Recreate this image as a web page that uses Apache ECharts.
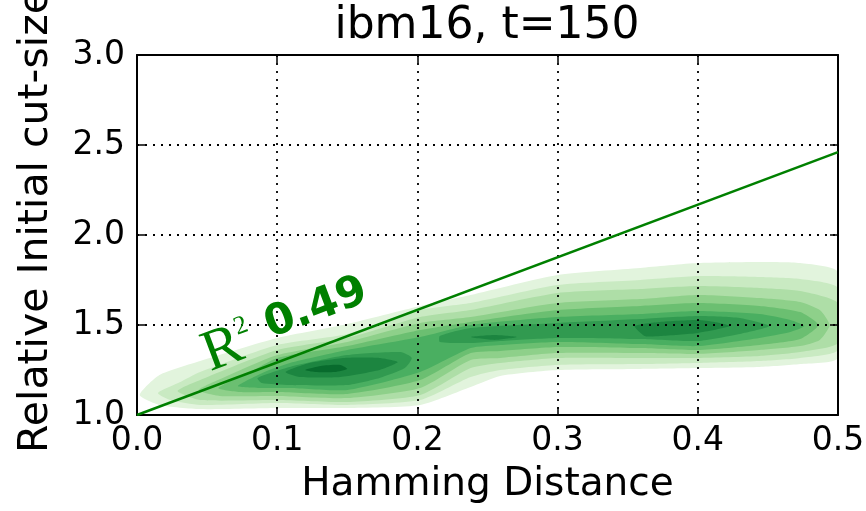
<!DOCTYPE html>
<html>
<head>
<meta charset="utf-8">
<script src="https://cdn.jsdelivr.net/npm/echarts@6/dist/echarts.min.js"></script>
<style>
html, body { margin: 0; padding: 0; background: #fff; }
#kde-chart { width: 866px; height: 511px; }
</style>
</head>
<body>
<div id="kde-chart"></div>
<script>
// axis ticks
const xTickLabels = ['0.0', '0.1', '0.2', '0.3', '0.4', '0.5'];
const yTickLabels = ['1.0', '1.5', '2.0', '2.5', '3.0'];

// regression line
const fitLine = [[0, 1.0], [0.5, 2.46]];
const rSquared = '0.49';
const labelAnchor = [0.052, 1.25];

// KDE contour bands, outermost first (hand traced)
const level1 = [
  [0.002, 1.111], [0.016, 1.222], [0.045, 1.300], [0.100, 1.428], [0.150, 1.506], [0.202, 1.606],
  [0.238, 1.667], [0.300, 1.778], [0.359, 1.817], [0.400, 1.844], [0.444, 1.850], [0.473, 1.844],
  [0.500, 1.794], [0.500, 1.317], [0.473, 1.283], [0.444, 1.267], [0.400, 1.261], [0.359, 1.256],
  [0.300, 1.250], [0.259, 1.217], [0.238, 1.156], [0.202, 1.056], [0.150, 1.039], [0.100, 1.039],
  [0.045, 1.033], [0.016, 1.056]
];
const level2 = [
  [0.015, 1.122], [0.030, 1.180], [0.045, 1.239], [0.100, 1.389], [0.150, 1.450], [0.202, 1.583],
  [0.238, 1.622], [0.300, 1.722], [0.359, 1.750], [0.400, 1.772], [0.444, 1.767], [0.473, 1.756],
  [0.500, 1.706], [0.500, 1.361], [0.473, 1.317], [0.444, 1.300], [0.400, 1.289], [0.359, 1.283],
  [0.300, 1.278], [0.259, 1.250], [0.238, 1.211], [0.202, 1.083], [0.150, 1.056], [0.100, 1.067],
  [0.045, 1.056], [0.024, 1.083]
];
const level3 = [
  [0.029, 1.133], [0.045, 1.194], [0.100, 1.361], [0.150, 1.428], [0.202, 1.544], [0.238, 1.583],
  [0.300, 1.678], [0.359, 1.700], [0.400, 1.717], [0.444, 1.706], [0.473, 1.689], [0.500, 1.622],
  [0.500, 1.400], [0.473, 1.350], [0.444, 1.328], [0.400, 1.317], [0.359, 1.317], [0.300, 1.317],
  [0.259, 1.289], [0.238, 1.261], [0.202, 1.111], [0.150, 1.072], [0.100, 1.083], [0.045, 1.083]
];
const level4 = [
  [0.044, 1.139], [0.066, 1.222], [0.100, 1.333], [0.150, 1.406], [0.202, 1.511], [0.238, 1.544],
  [0.300, 1.622], [0.359, 1.644], [0.400, 1.667], [0.444, 1.650], [0.473, 1.628], [0.487, 1.583],
  [0.494, 1.500], [0.487, 1.417], [0.473, 1.383], [0.444, 1.361], [0.400, 1.339], [0.359, 1.344],
  [0.300, 1.344], [0.259, 1.317], [0.238, 1.306], [0.202, 1.150], [0.150, 1.094], [0.100, 1.106],
  [0.059, 1.106]
];
const level5 = [
  [0.058, 1.150], [0.081, 1.239], [0.100, 1.317], [0.150, 1.383], [0.202, 1.472], [0.238, 1.517],
  [0.300, 1.583], [0.359, 1.606], [0.400, 1.622], [0.444, 1.606], [0.473, 1.572], [0.486, 1.500],
  [0.473, 1.422], [0.444, 1.389], [0.400, 1.361], [0.359, 1.372], [0.300, 1.378], [0.259, 1.356],
  [0.238, 1.344], [0.202, 1.194], [0.150, 1.117], [0.100, 1.128], [0.073, 1.128]
];
const level6 = [
  [0.072, 1.161], [0.091, 1.239], [0.109, 1.289], [0.150, 1.361], [0.202, 1.433], [0.238, 1.500],
  [0.300, 1.544], [0.359, 1.561], [0.400, 1.578], [0.444, 1.561], [0.466, 1.528], [0.476, 1.494],
  [0.466, 1.461], [0.444, 1.428], [0.400, 1.383], [0.359, 1.394], [0.300, 1.406], [0.259, 1.389],
  [0.238, 1.372], [0.202, 1.239], [0.150, 1.139], [0.109, 1.150], [0.088, 1.150]
];
const level7Left = [
  [0.086, 1.206], [0.109, 1.267], [0.150, 1.333], [0.188, 1.350], [0.196, 1.317], [0.191, 1.261],
  [0.173, 1.206], [0.150, 1.167], [0.109, 1.167], [0.089, 1.178]
];
const level7Right = [
  [0.216, 1.439], [0.238, 1.483], [0.300, 1.511], [0.359, 1.533], [0.400, 1.550], [0.430, 1.539],
  [0.451, 1.494], [0.430, 1.450], [0.400, 1.411], [0.359, 1.422], [0.300, 1.428], [0.259, 1.411],
  [0.238, 1.400], [0.216, 1.406]
];
const level8Left = [
  [0.106, 1.239], [0.123, 1.289], [0.148, 1.317], [0.173, 1.317], [0.186, 1.294], [0.173, 1.250],
  [0.145, 1.211], [0.116, 1.211]
];
const level8Mid = [[0.238, 1.433], [0.255, 1.444], [0.271, 1.433], [0.255, 1.417]];
const level8Right = [
  [0.355, 1.494], [0.373, 1.517], [0.400, 1.528], [0.412, 1.517], [0.423, 1.494], [0.400, 1.456],
  [0.373, 1.439], [0.362, 1.439]
];
const level9 = [
  [0.120, 1.250], [0.131, 1.272], [0.145, 1.278], [0.150, 1.256], [0.141, 1.239], [0.127, 1.239]
];

const levels = [
  [level1], [level2], [level3], [level4], [level5], [level6],
  [level7Left, level7Right], [level8Left, level8Mid, level8Right], [level9]
];
const levelColors = [
  '#e2f4dd', '#c9eac2', '#aedea7', '#8ed08a', '#6bbf71',
  '#4aaf61', '#319a50', '#1c8540', '#086b2d'
];

const fontSans = 'DejaVu Sans';

function contourSeries(polys, color, idx) {
  return {
    type: 'custom',
    coordinateSystem: 'cartesian2d',
    silent: true,
    clip: true,
    z: 1,
    data: polys.map((p) => p[0]),
    renderItem: (params, api) => ({
      type: 'polygon',
      z2: idx,
      shape: {
        points: polys[params.dataIndex].map((pt) => api.coord(pt)),
        smooth: 0.2,
      },
      style: { fill: color, stroke: null },
    }),
  };
}

const chart = echarts.init(document.getElementById('kde-chart'));

const tickLine = { color: '#000', width: 1.5 };
const axisLine = { show: true, onZero: false, lineStyle: { color: '#000', width: 2 } };
const gridLine = { show: true, lineStyle: { color: '#000', width: 1.8, type: [2, 6] } };

chart.setOption({
  animation: false,
  title: {
    text: 'ibm16, t=150',
    left: 482,
    textAlign: 'center',
    top: 0,
    textStyle: { fontFamily: fontSans, fontSize: 44, fontWeight: 'normal', color: '#000' },
  },
  grid: { left: 137, right: 28, top: 55, bottom: 96, outerBoundsMode: 'none', containLabel: false },
  xAxis: [
    {
      type: 'value', min: 0, max: 0.5, interval: 0.1, position: 'bottom', z: 4,
      axisLine,
      axisTick: { inside: true, length: 8, lineStyle: tickLine },
      axisLabel: {
        margin: 10, color: '#000', fontSize: 33, fontFamily: fontSans,
        showMinLabel: true, showMaxLabel: true,
        formatter: (v, i) => xTickLabels[i],
      },
      splitLine: gridLine,
      name: 'Hamming Distance',
      nameLocation: 'middle',
      nameGap: 50,
      nameTextStyle: { fontFamily: fontSans, fontSize: 39, color: '#000' },
    },
    {
      type: 'value', min: 0, max: 0.5, interval: 0.1, position: 'top', z: 4,
      axisLine,
      axisTick: { inside: true, length: 8, lineStyle: tickLine },
      axisLabel: { show: false },
      splitLine: { show: false },
    },
  ],
  yAxis: [
    {
      type: 'value', min: 1.0, max: 3.0, interval: 0.5, position: 'left', z: 4,
      axisLine,
      axisTick: { inside: true, length: 8, lineStyle: tickLine },
      axisLabel: {
        margin: 12, color: '#000', fontSize: 33, fontFamily: fontSans,
        showMinLabel: true, showMaxLabel: true,
        formatter: (v, i) => yTickLabels[i],
      },
      splitLine: gridLine,
      name: 'Relative Initial cut-size',
      nameLocation: 'middle',
      nameGap: 80,
      nameTextStyle: { fontFamily: fontSans, fontSize: 41, color: '#000', padding: [0, 0, 0, 28] },
    },
    {
      type: 'value', min: 1.0, max: 3.0, interval: 0.5, position: 'right', z: 4,
      axisLine,
      axisTick: { inside: true, length: 8, lineStyle: tickLine },
      axisLabel: { show: false },
      splitLine: { show: false },
    },
  ],
  series: [
    ...levels.map((polys, i) => contourSeries(polys, levelColors[i], i)),
    {
      type: 'line',
      data: fitLine,
      symbol: 'none',
      z: 5,
      lineStyle: { color: '#008000', width: 2.5 },
    },
  ],
});

// R^2 annotation, rotated along the fit line
const p0 = chart.convertToPixel({ gridIndex: 0 }, fitLine[0]);
const p1 = chart.convertToPixel({ gridIndex: 0 }, fitLine[1]);
const angle = -Math.atan2(p1[1] - p0[1], p1[0] - p0[0]);
const anchor = chart.convertToPixel({ gridIndex: 0 }, labelAnchor);

chart.setOption({
  graphic: [
    {
      type: 'group',
      x: anchor[0],
      y: anchor[1],
      rotation: angle,
      children: [
        {
          type: 'text',
          z: 10,
          style: {
            text: 'R', x: 0, y: -14, fill: '#008000',
            fontSize: 58, fontFamily: 'Liberation Serif', align: 'left', verticalAlign: 'middle',
          },
        },
        {
          type: 'text',
          z: 10,
          style: {
            text: '2', x: 38, y: -30, fill: '#008000',
            fontSize: 26, fontFamily: 'Liberation Serif', align: 'left', verticalAlign: 'middle',
          },
        },
        {
          type: 'text',
          z: 10,
          style: {
            text: rSquared, x: 68, y: -20, fill: '#008000',
            fontSize: 43, fontWeight: 'bold', fontFamily: fontSans, align: 'left', verticalAlign: 'middle',
          },
        },
      ],
    },
  ],
});
</script>
</body>
</html>
